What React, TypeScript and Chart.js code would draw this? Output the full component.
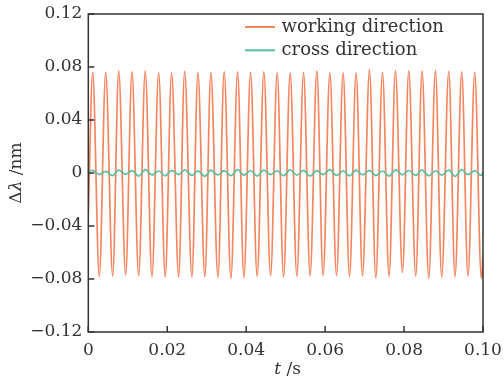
import React, { useEffect, useRef } from "react";
import { Chart, registerables } from "chart.js";

Chart.register(...registerables);

// ---- data ----
const seriesNames = ["working direction", "cross direction"];

// working direction: crest / trough times (s) and values (nm)
const peakT = [0.00111, 0.00441, 0.0077, 0.01106, 0.01443, 0.01782, 0.02111, 0.02441, 0.02777, 0.03106,
  0.03443, 0.03782, 0.04111, 0.04448, 0.04785, 0.05114, 0.05453, 0.0579, 0.06119, 0.06456,
  0.06785, 0.07124, 0.07453, 0.07782, 0.08119, 0.08456, 0.08795, 0.09132, 0.09461, 0.0979];
const peakV = [0.076, 0.076, 0.077, 0.0765, 0.077, 0.0755, 0.0755, 0.0768, 0.0757, 0.076,
  0.0763, 0.0763, 0.076, 0.0763, 0.0758, 0.0755, 0.0758, 0.077, 0.0755, 0.0755,
  0.0758, 0.078, 0.076, 0.077, 0.077, 0.077, 0.0772, 0.0768, 0.0763, 0.076];
const troughT = [0.00278, 0.00618, 0.00947, 0.01276, 0.01613, 0.01949, 0.02289, 0.02625, 0.02954, 0.03284,
  0.03613, 0.03942, 0.04278, 0.04618, 0.04947, 0.05284, 0.0562, 0.05949, 0.06289, 0.06618,
  0.06947, 0.07284, 0.0762, 0.07959, 0.08296, 0.08625, 0.08954, 0.09291, 0.0962, 0.09959];
const troughV = [-0.0783, -0.0778, -0.077, -0.0775, -0.0783, -0.0783, -0.0783, -0.0783, -0.0783, -0.0787,
  -0.0797, -0.079, -0.078, -0.0775, -0.0785, -0.078, -0.0775, -0.0775, -0.0775, -0.0782,
  -0.0778, -0.0791, -0.0783, -0.075, -0.0778, -0.0795, -0.0787, -0.0783, -0.0778, -0.0795];
const workingEdgeT = [0, 0.1];
const workingEdgeV = [-0.032, -0.062];

// cross direction: values at the same crest / trough times
const crossPeakV = [0.002, 0.0012, 0.0022, 0.0018, 0.0026, 0.0015, 0.002, 0.0024, 0.0016, 0.0021,
  0.0018, 0.0025, 0.0019, 0.0022, 0.0017, 0.0024, 0.002, 0.0018, 0.0026, 0.0016,
  0.0022, 0.002, 0.0015, 0.0024, 0.0019, 0.0023, 0.0017, 0.0021, 0.0025, 0.0018];
const crossTroughV = [-0.0012, -0.002, -0.001, -0.0024, -0.0015, -0.0022, -0.0012, -0.0018, -0.0025, -0.0014,
  -0.002, -0.0016, -0.0023, -0.0012, -0.0021, -0.0017, -0.0024, -0.0013, -0.0019, -0.0022,
  -0.0015, -0.002, -0.0024, -0.0014, -0.0018, -0.0021, -0.0016, -0.0025, -0.0013, -0.0019];
const crossEdgeV = [0.0015, 0.0005];

const xTicks = [0, 0.02, 0.04, 0.06, 0.08, 0.1];
const yTicks = [-0.12, -0.08, -0.04, 0, 0.04, 0.08, 0.12];

const colors = ["#F5855F", "#5DBF9F"];
const FONT = "DejaVu Serif";
const FS = 17;
const LEGEND_FS = 18;

function buildSeries(pv: number[], tv: number[], edge: number[]) {
  const pts: { x: number; y: number }[] = [{ x: workingEdgeT[0], y: edge[0] }];
  for (let i = 0; i < peakT.length; i++) {
    pts.push({ x: peakT[i], y: pv[i] });
    pts.push({ x: troughT[i], y: tv[i] });
  }
  pts.push({ x: workingEdgeT[1], y: edge[1] });
  return pts;
}

function fmt(v: number) {
  if (Math.abs(v) < 1e-9) return "0";
  const s = Math.abs(v).toFixed(2);
  return v < 0 ? "\u2212" + s : s;
}

const decor = {
  id: "decor",
  afterDraw(chart: any) {
    const ctx = chart.ctx;
    const { left, right, top, bottom } = chart.chartArea;
    ctx.save();
    ctx.strokeStyle = "#333";
    ctx.lineWidth = 1.5;
    ctx.strokeRect(left, top, right - left, bottom - top);
    const ys = chart.scales.y;
    const xs = chart.scales.x;
    ctx.beginPath();
    yTicks.forEach((v) => {
      const p = ys.getPixelForValue(v);
      ctx.moveTo(left, p);
      ctx.lineTo(left + 6, p);
    });
    xTicks.forEach((v) => {
      const p = xs.getPixelForValue(v);
      ctx.moveTo(p, bottom);
      ctx.lineTo(p, bottom - 6);
    });
    ctx.stroke();

    // legend
    ctx.textBaseline = "middle";
    ctx.textAlign = "left";
    ctx.font = `${LEGEND_FS}px "${FONT}"`;
    seriesNames.forEach((name, i) => {
      const y = top + 13 + i * 23.3;
      ctx.strokeStyle = colors[i];
      ctx.lineWidth = 2;
      ctx.beginPath();
      ctx.moveTo(right - 238, y);
      ctx.lineTo(right - 208, y);
      ctx.stroke();
      ctx.fillStyle = "#333";
      ctx.fillText(name, right - 201.5, y);
    });

    // axis titles with italic parts
    const drawParts = (parts: [string, boolean][], cx: number, cy: number, rot: number) => {
      ctx.save();
      ctx.translate(cx, cy);
      ctx.rotate(rot);
      let total = 0;
      const widths = parts.map(([t, it]) => {
        ctx.font = `${it ? "italic " : ""}${FS}px "${FONT}"`;
        const w = ctx.measureText(t).width;
        total += w;
        return w;
      });
      let x = -total / 2;
      ctx.fillStyle = "#333";
      ctx.textAlign = "left";
      ctx.textBaseline = "middle";
      parts.forEach(([t, it], i) => {
        ctx.font = `${it ? "italic " : ""}${FS}px "${FONT}"`;
        ctx.fillText(t, x, 0);
        x += widths[i];
      });
      ctx.restore();
    };
    drawParts([["\u0394", false], ["\u03BB", true], [" /nm", false]], 17, (top + bottom) / 2, -Math.PI / 2);
    drawParts([["t", true], [" /s", false]], (left + right) / 2 + 2, 370, 0);
    ctx.restore();
  },
};

export default function App() {
  const ref = useRef<HTMLCanvasElement>(null);
  useEffect(() => {
    if (!ref.current) return;
    const chart = new Chart(ref.current, {
      type: "line",
      data: {
        datasets: [
          {
            label: seriesNames[0],
            data: buildSeries(peakV, troughV, workingEdgeV),
            borderColor: colors[0],
            borderWidth: 1.7,
            pointRadius: 0,
            cubicInterpolationMode: "monotone",
            order: 2,
          },
          {
            label: seriesNames[1],
            data: buildSeries(crossPeakV, crossTroughV, crossEdgeV),
            borderColor: colors[1],
            borderWidth: 1.7,
            pointRadius: 0,
            cubicInterpolationMode: "monotone",
            order: 1,
          },
        ],
      },
      options: {
        responsive: false,
        animation: false,
        devicePixelRatio: 1,
        layout: { padding: { top: 14, right: 21, left: 0, bottom: 0 } },
        plugins: { legend: { display: false }, tooltip: { enabled: false } },
        scales: {
          x: {
            type: "linear",
            min: 0,
            max: 0.1,
            grid: { display: false, drawTicks: false },
            border: { display: false },
            afterBuildTicks: (s: any) => {
              s.ticks = xTicks.map((v) => ({ value: v }));
            },
            afterFit: (s: any) => {
              s.height = 50;
              s.paddingLeft = 0;
              s.paddingRight = 0;
            },
            ticks: {
              padding: 8,
              maxRotation: 0,
              autoSkip: false,
              color: "#333",
              font: { family: FONT, size: FS },
              callback: (v: any) => fmt(Number(v)),
            },
          },
          y: {
            type: "linear",
            min: -0.12,
            max: 0.12,
            grid: { display: false, drawTicks: false },
            border: { display: false },
            afterBuildTicks: (s: any) => {
              s.ticks = yTicks.map((v) => ({ value: v }));
            },
            afterFit: (s: any) => {
              s.width = 88.3;
              s.paddingTop = 0;
              s.paddingBottom = 0;
            },
            ticks: {
              padding: 6,
              autoSkip: false,
              color: "#333",
              font: { family: FONT, size: FS },
              callback: (v: any) => fmt(Number(v)),
            },
          },
        },
      },
      plugins: [decor],
    });
    return () => chart.destroy();
  }, []);
  return (
    <div style={{ position: "absolute", left: 0, top: 0, width: 504, height: 382, background: "#fff" }}>
      <canvas ref={ref} width={504} height={382} />
    </div>
  );
}
